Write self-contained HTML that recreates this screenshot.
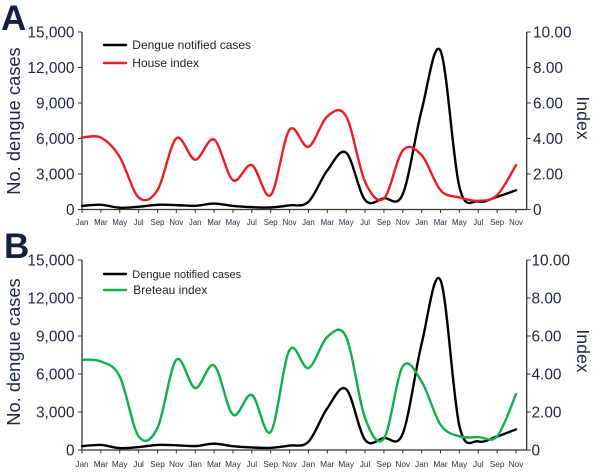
<!DOCTYPE html>
<html>
<head>
<meta charset="utf-8">
<title>Dengue notified cases and vector indices</title>
<style>
html,body{margin:0;padding:0;background:#fff;}
svg{display:block;font-family:"Liberation Sans",sans-serif;}
</style>
</head>
<body>
<svg id="chart" width="600" height="473" viewBox="0 0 600 473" xmlns="http://www.w3.org/2000/svg"></svg>
<script>
const monthLabels = ["Jan","Mar","May","Jul","Sep","Nov","Jan","Mar","May","Jul","Sep","Nov","Jan","Mar","May","Jul","Sep","Nov","Jan","Mar","May","Jul","Sep","Nov"];
const casesTicks = [0,3000,6000,9000,12000,15000];
const casesTickLabels = ["0","3,000","6,000","9,000","12,000","15,000"];
const indexTicks = [0,2,4,6,8,10];
const indexTickLabels = ["0","2.00","4.00","6.00","8.00","10.00"];
const dengueCases = [300,400,150,230,400,370,310,500,300,200,170,350,650,3300,4800,800,950,1300,8400,13400,1900,680,1070,1630];
const houseIndex = [4.05,4.05,2.96,0.68,1.09,4.01,2.81,3.94,1.65,2.50,0.81,4.50,3.53,5.25,5.25,1.56,0.62,3.33,3.06,1.09,0.68,0.49,0.81,2.50];
const breteauIndex = [4.75,4.66,3.87,0.72,1.16,4.75,3.26,4.45,1.86,2.90,0.95,5.27,4.31,5.95,5.95,1.68,0.60,4.40,3.60,1.33,0.72,0.68,0.72,2.94];

const NS = "http://www.w3.org/2000/svg";
const root = document.getElementById("chart");
const INK = "#1c2640";
const AXIS = "#333";

function make(tag, attrs, parent, txt){
  const el = document.createElementNS(NS, tag);
  for (const k in attrs) el.setAttribute(k, attrs[k]);
  if (txt !== undefined) el.textContent = txt;
  parent.appendChild(el);
  return el;
}
function splinePath(pts){
  let d = "M" + pts[0][0].toFixed(2) + " " + pts[0][1].toFixed(2);
  for (let i = 0; i < pts.length - 1; i++){
    const p0 = pts[Math.max(i-1,0)], p1 = pts[i], p2 = pts[i+1], p3 = pts[Math.min(i+2,pts.length-1)];
    const c1x = p1[0] + (p2[0]-p0[0])/6, c1y = p1[1] + (p2[1]-p0[1])/6;
    const c2x = p2[0] - (p3[0]-p1[0])/6, c2y = p2[1] - (p3[1]-p1[1])/6;
    d += "C" + c1x.toFixed(2) + " " + c1y.toFixed(2) + " " + c2x.toFixed(2) + " " + c2y.toFixed(2) + " " + p2[0].toFixed(2) + " " + p2[1].toFixed(2);
  }
  return d;
}
function drawPanel(opt){
  const g = make("g", {}, root);
  
  

  const x0 = 82, xStep = 18.87, xRight = 526.7;
  const xScale = i => x0 + i * xStep;
  const yCases = v => opt.bottom - (v / 15000) * (opt.bottom - opt.top);
  const yIndex = v => opt.bottom - (v / 10) * (opt.bottom - opt.top);

  const letter = make("text", {x:opt.letterX, y:opt.letterY, "font-size":35, "font-weight":"bold", fill:"#14213d"}, g, opt.letter);
  
  

  const xAxis = make("line", {x1:x0, x2:xRight, y1:opt.bottom, y2:opt.bottom, stroke:AXIS, "stroke-width":1.3}, g);
  
  
  const leftAxis = make("line", {x1:x0, x2:x0, y1:opt.top, y2:opt.bottom, stroke:AXIS, "stroke-width":1.3}, g);
  
  
  const rightAxis = make("line", {x1:xRight, x2:xRight, y1:opt.top, y2:opt.bottom, stroke:AXIS, "stroke-width":1.3}, g);
  
  

  monthLabels.forEach((lab, i) => {
    const x = xScale(i);
    make("line", {x1:x, x2:x, y1:opt.bottom, y2:opt.bottom + 3.5, stroke:AXIS, "stroke-width":1}, g);
    const t = make("text", {x:x, y:opt.monthY, "font-size":opt.monthSize, "text-anchor":"middle", fill:"#2a3040"}, g, lab);
    
    
  });
  casesTicks.forEach((v, i) => {
    const y = yCases(v);
    make("line", {x1:x0 - 4, x2:x0, y1:y, y2:y, stroke:AXIS, "stroke-width":1}, g);
    const t = make("text", {x:74.5, y:y + 5.6, "font-size":15.4, "text-anchor":"end", fill:INK}, g, casesTickLabels[i]);
    
    
  });
  indexTicks.forEach((v, i) => {
    const y = yIndex(v);
    make("line", {x1:xRight, x2:xRight + 4, y1:y, y2:y, stroke:AXIS, "stroke-width":1}, g);
    const t = make("text", {x:opt.rightLabelX, y:y + 5.6, "font-size":15.4, fill:INK}, g, indexTickLabels[i]);
    
    
  });

  const yTitle = make("text", {transform:"translate(20 " + opt.titleY + ") rotate(-90)", "font-size":18.3, "text-anchor":"middle", fill:INK}, g, "No. dengue cases");
  
  
  const rTitle = make("text", {transform:"translate(577 " + opt.indexTitleY + ") rotate(90)", "font-size":17.7, "text-anchor":"middle", fill:INK}, g, "Index");
  
  

  const casesLine = make("path", {d:splinePath(dengueCases.map((v,i)=>[xScale(i), yCases(v)])), fill:"none", stroke:"#000", "stroke-width":2.4, "stroke-linejoin":"round", "stroke-linecap":"round"}, g);
  
  
  const indexLine = make("path", {d:splinePath(opt.series.map((v,i)=>[xScale(i), yIndex(v)])), fill:"none", stroke:opt.color, "stroke-width":2.4, "stroke-linejoin":"round", "stroke-linecap":"round"}, g);
  
  

  const k1 = make("line", {x1:104, x2:126, y1:opt.legendY1, y2:opt.legendY1, stroke:"#000", "stroke-width":2.4, "stroke-linecap":"round"}, g);
  
  
  const l1 = make("text", {x:132.3, y:opt.legendY1 + 4, "font-size":opt.legendSize, fill:"#222"}, g, "Dengue notified cases");
  
  
  const k2 = make("line", {x1:104, x2:126, y1:opt.legendY2, y2:opt.legendY2, stroke:opt.color, "stroke-width":2.4, "stroke-linecap":"round"}, g);
  
  
  const l2 = make("text", {x:opt.label2X, y:opt.legendY2 + 4.2, "font-size":opt.legend2Size, fill:"#222"}, g, opt.label);
  
  
}

drawPanel({name:"panel-a", letter:"A", letterX:1, letterY:30, top:32, bottom:209.5, monthY:225, monthSize:7.8, rightLabelX:533,
  titleY:121, indexTitleY:118, series:houseIndex, color:"#ed1c24", label:"House index", label2X:132.3,
  legendY1:45, legendY2:63, legendSize:12, legend2Size:12});
drawPanel({name:"panel-b", letter:"B", letterX:4, letterY:258, top:260, bottom:450, monthY:467, monthSize:8.3, rightLabelX:531.5,
  titleY:352, indexTitleY:351, series:breteauIndex, color:"#0fb04c", label:"Breteau index", label2X:133.3,
  legendY1:274, legendY2:290, legendSize:11, legend2Size:12});
</script>
</body>
</html>
